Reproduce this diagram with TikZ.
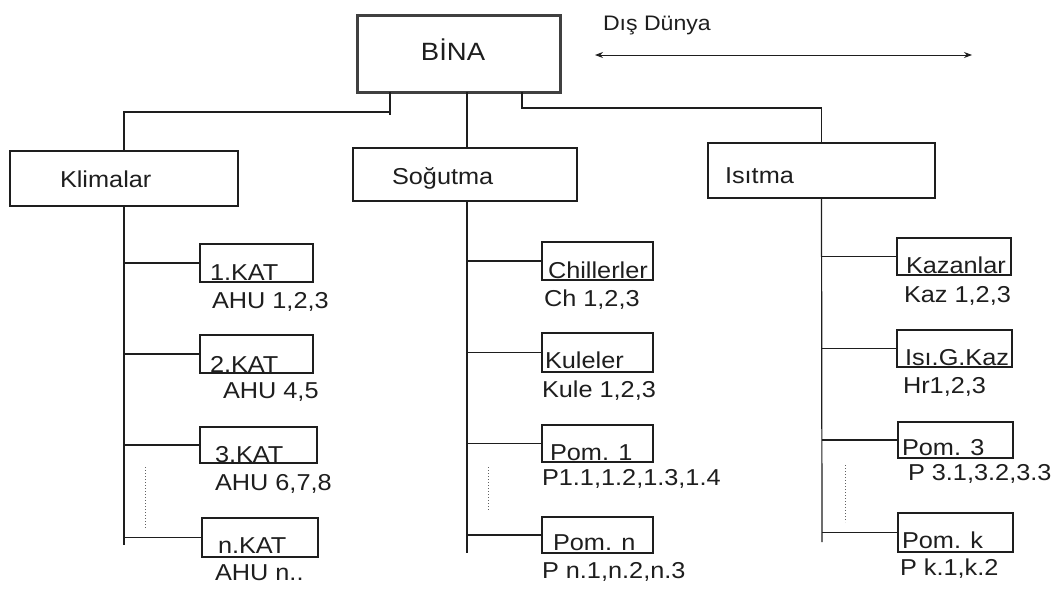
\documentclass[tikz,border=0pt]{standalone}
\usepackage{fontspec}
\setmainfont[FakeStretch=1.1]{Liberation Sans}
\usetikzlibrary{arrows.meta}
\definecolor{ink}{HTML}{1E1E1E}
\begin{document}
\begin{tikzpicture}[x=1pt,y=-1pt,
  every node/.style={inner sep=0pt, outer sep=0pt, text=ink},
  conn/.style={draw=ink, line width=1.2pt},
  topbox/.style={draw=ink, line width=1.2pt, anchor=north west},
  bigbox/.style={draw=ink!85, line width=3pt, anchor=north west},
  subbox/.style={draw=ink, line width=1.2pt, anchor=north west, minimum width=113pt, minimum height=38pt},
  txt/.style={anchor=base west, font=\fontsize{23}{26}\selectfont},
  dots/.style={draw=ink!70, line width=1pt, dotted}
]
\useasboundingbox (0,0) rectangle (1064,590);

% top box
\node[bigbox, minimum width=203pt, minimum height=77pt] (bina) at (357,15) {};
\node[anchor=base, font=\fontsize{25}{28}\selectfont] (binat) at (453,60) {BİNA};

% Dis Dunya
\node[anchor=base west, font=\fontsize{21}{24}\selectfont] (dis) at (603,30) {Dış Dünya};
\coordinate (aL) at (595,55);
\coordinate (aR) at (972,55);
\draw[conn, line width=1pt, {Stealth[length=8pt,width=6pt]}-{Stealth[length=8pt,width=6pt]}] (aL) -- (aR);

% main boxes
\node[topbox, minimum width=228pt, minimum height=55pt] (kl) at (10,151) {};
\node[txt] (klt) at (60,187) {Klimalar};
\node[topbox, minimum width=224pt, minimum height=53pt] (so) at (353,148) {};
\node[txt] (sot) at (392,184) {Soğutma};
\node[topbox, minimum width=227pt, minimum height=55pt] (is) at (708,143) {};
\node[txt] (ist) at (725,183) {Isıtma};

% connectors from BINA
\coordinate (s1) at (390,115);
\coordinate (s3) at (522,108);
\draw[conn] (bina.south -| s1) -- (s1);
\draw[conn] (390,112) -| (kl.north);
\draw[conn] (bina.south -| 467,0) -- (so.north -| 467,0);
\draw[conn] (bina.south -| s3) -- (s3) -| (is.north);

% ---------- Klimalar subtree
\coordinate (kend) at (124,545);
\draw[conn] (kl.south) -- (kend);
\node[subbox] (k1) at (200,244) {};
\node[subbox] (k2) at (200,335) {};
\node[subbox, minimum width=117pt, minimum height=36pt] (k3) at (200,427) {};
\node[subbox, minimum width=116pt, minimum height=39pt] (k4) at (202,518) {};
\foreach \b in {k1,k2,k3,k4} \draw[conn] (\b.west -| kend) -- (\b.west);
\node[txt] at (210,280) {1.KAT};
\node[txt] at (212,308) {AHU 1,2,3};
\node[txt] at (210,372) {2.KAT};
\node[txt] at (223,398) {AHU 4,5};
\node[txt] at (215,462) {3.KAT};
\node[txt] at (215,490) {AHU 6,7,8};
\node[txt] at (218,553) {n.KAT};
\node[txt] at (215,580) {AHU n..};
\draw[dots] (145,467) -- (145,528);

% ---------- Sogutma subtree
\coordinate (send) at (467,553);
\draw[conn] (so.south -| send) -- (send);
\node[subbox, minimum width=111pt] (c1) at (542,242) {};
\node[subbox, minimum width=111pt, minimum height=39pt] (c2) at (542,333) {};
\node[subbox, minimum width=111pt, minimum height=37pt] (c3) at (542,425) {};
\node[subbox, minimum width=111pt, minimum height=36pt] (c4) at (542,517) {};
\foreach \b in {c1,c2,c3,c4} \draw[conn] (\b.west -| send) -- (\b.west);
\node[txt] at (548,278) {Chillerler};
\node[txt] at (544,306) {Ch 1,2,3};
\node[txt] at (545,368) {Kuleler};
\node[txt] at (542,397) {Kule 1,2,3};
\node[txt] at (550,460) {Pom. 1};
\node[txt] at (542,485) {P1.1,1.2,1.3,1.4};
\node[txt] at (553,550) {Pom. n};
\node[txt] at (542,578) {P n.1,n.2,n.3};
\draw[dots] (488,467) -- (488,510);

% ---------- Isitma subtree
\coordinate (iend) at (822,542);
\draw[conn] (is.south) -- (iend);
\node[subbox, minimum width=114pt, minimum height=37pt] (h1) at (897,238) {};
\node[subbox, minimum width=115pt, minimum height=37pt] (h2) at (897,330) {};
\node[subbox, minimum width=115pt, minimum height=36pt] (h3) at (898,422) {};
\node[subbox, minimum width=115pt, minimum height=39pt] (h4) at (898,513) {};
\foreach \b in {h1,h2,h3,h4} \draw[conn] (\b.west -| iend) -- (\b.west);
\node[txt] at (906,273) {Kazanlar};
\node[txt] at (904,302) {Kaz 1,2,3};
\node[txt] at (905,365) {Isı.G.Kaz};
\node[txt] at (903,393) {Hr1,2,3};
\node[txt] at (902,455) {Pom. 3};
\node[txt] at (908,480) {P 3.1,3.2,3.3};
\node[txt] at (902,548) {Pom. k};
\node[txt] at (900,575) {P k.1,k.2};
\draw[dots] (845,465) -- (845,522);
\end{tikzpicture}
\end{document}
